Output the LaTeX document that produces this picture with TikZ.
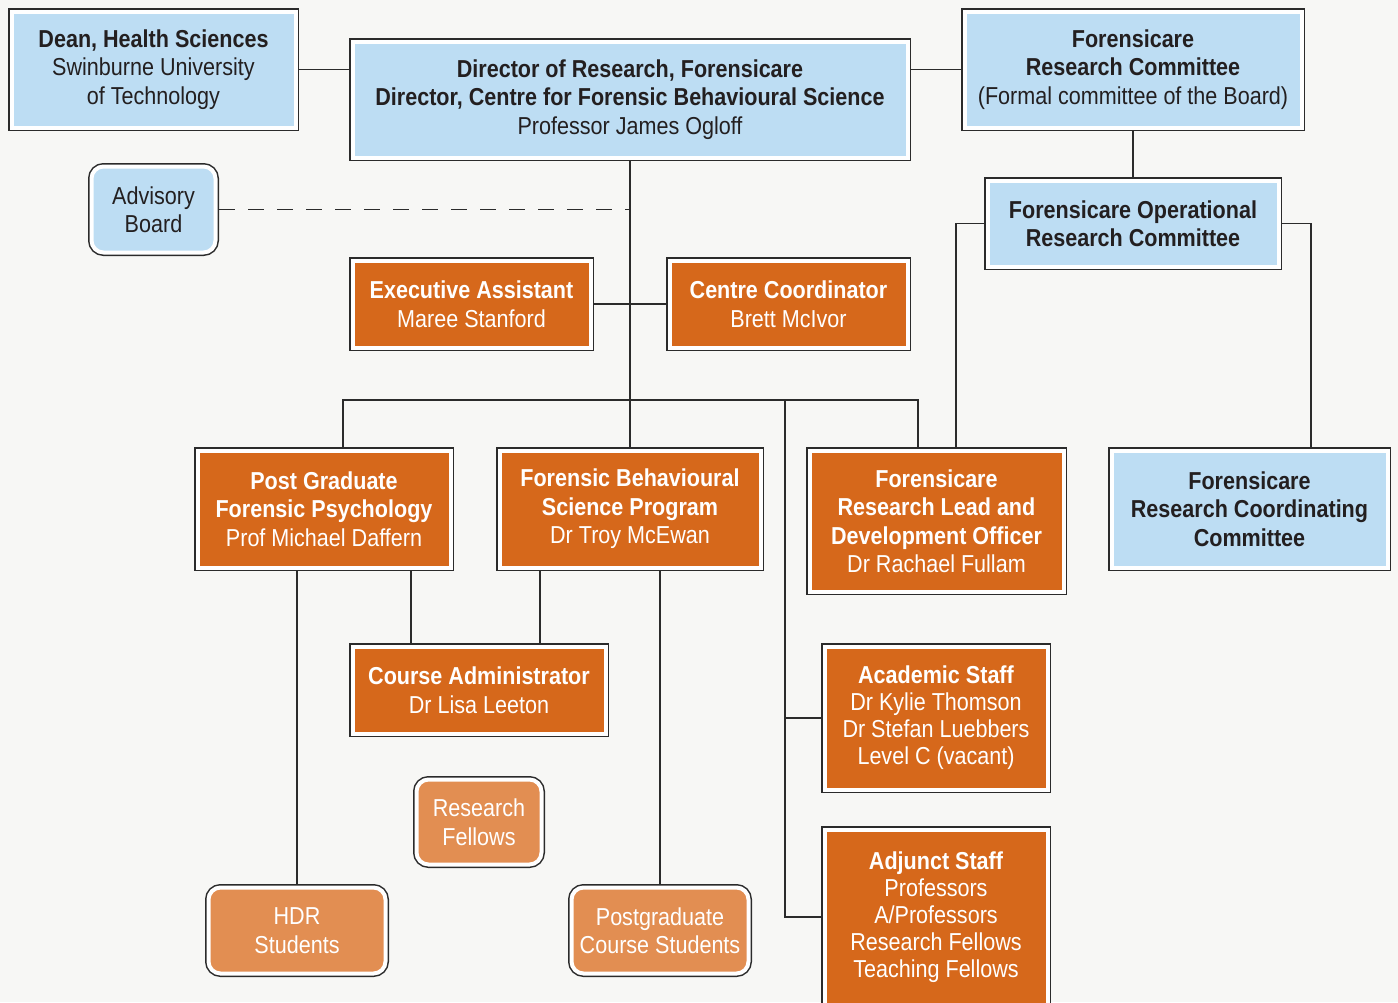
\documentclass[tikz,border=0pt]{standalone}
\usepackage{fontspec}
\setmainfont{Liberation Sans}[FakeStretch=0.88]
\definecolor{bgc}{HTML}{F7F7F5}
\definecolor{linec}{HTML}{2B2B2B}
\definecolor{bluef}{HTML}{BDDDF3}
\definecolor{oranf}{HTML}{D6681B}
\definecolor{lorf}{HTML}{E28E52}
\definecolor{textd}{HTML}{231F20}
\tikzset{
  base/.style={draw=white, line width=4pt, preaction={draw=linec, line width=7pt},
    outer sep=3.5pt, inner sep=0pt, align=center, font=\fontsize{24.5}{28.5}\selectfont},
  bluebox/.style={base, fill=bluef, text=textd},
  orbox/.style={base, fill=oranf, text=white},
  ltbox/.style={base, fill=lorf, text=white, rounded corners=12pt},
  bluernd/.style={base, fill=bluef, text=textd, rounded corners=12pt},
  conn/.style={draw=linec, line width=1.5pt},
  sz/.style 2 args={minimum width=#1pt-7pt, minimum height=#2pt-7pt},
}
\newcommand\hd[1]{{\bfseries #1}}
\begin{document}
\begin{tikzpicture}[x=1pt, y=-1pt]
\clip (0,0) rectangle (1398,1002);
\fill[bgc] (0,0) rectangle (1398,1002);

\coordinate (c343) at (343,400);
\coordinate (c918) at (918,400);
\coordinate (c785) at (785,400);
\coordinate (c956) at (956,0);
\coordinate (c1311) at (1311,0);
\coordinate (c411) at (411,0);
\coordinate (c540) at (540,0);

% nodes
\node[bluebox, sz={291}{123}] (dean) at (153.5,69.5) {\hd{Dean, Health Sciences}\\Swinburne University\\of Technology};
\node[bluebox, sz={562}{123}] (dir) at (630,99.5) {\hd{Director of Research, Forensicare}\\\hd{Director, Centre for Forensic Behavioural Science}\\Professor James Ogloff};
\node[bluebox, sz={344}{123}] (frc) at (1133,69.5) {\hd{Forensicare}\\\hd{Research Committee}\\(Formal committee of the Board)};
\node[bluernd, sz={131}{93}] (adv) at (153.5,209.5) {Advisory\\Board};
\node[bluebox, sz={298}{93}] (forc) at (1133,223.5) {\hd{Forensicare Operational}\\\hd{Research Committee}};
\node[orbox, sz={245}{94}] (ea) at (471.5,304) {\hd{Executive Assistant}\\Maree Stanford};
\node[orbox, sz={245}{94}] (cc) at (788.5,304) {\hd{Centre Coordinator}\\Brett McIvor};
\node[orbox, sz={260}{124}] (pg) at (324,509) {\hd{Post Graduate}\\\hd{Forensic Psychology}\\Prof Michael Daffern};
\node[orbox, sz={268}{124}] (fbsp) at (630,509) {\hd{Forensic Behavioural}\\\hd{Science Program}\\Dr Troy McEwan};
\node[orbox, sz={261}{148}] (frl) at (936.5,521) {\hd{Forensicare}\\\hd{Research Lead and}\\\hd{Development Officer}\\Dr Rachael Fullam};
\node[bluebox, sz={283}{124}] (frcc) at (1249.5,509) {\hd{Forensicare}\\\hd{Research Coordinating}\\\hd{Committee}};
\node[orbox, sz={260}{94}] (ca) at (479,690) {\hd{Course Administrator}\\Dr Lisa Leeton};
\node[orbox, sz={230}{150}, font=\fontsize{24.5}{27}\selectfont] (acad) at (936,718) {\hd{Academic Staff}\\Dr Kylie Thomson\\Dr Stefan Luebbers\\Level C (vacant)};
\node[ltbox, sz={132}{92}] (rf) at (479,822) {Research\\Fellows};
\node[ltbox, sz={184}{93}] (hdr) at (297,930.5) {HDR\\Students};
\node[ltbox, sz={184}{93}] (pcs) at (660,930.5) {Postgraduate\\Course Students};
\node[orbox, sz={230}{182}, font=\fontsize{24.5}{27}\selectfont] (adj) at (936,917) {\hd{Adjunct Staff}\\Professors\\A/Professors\\Research Fellows\\Teaching Fellows};

% connectors
\draw[conn] (dean.east) -- (dean.east -| dir.west);
\draw[conn] (dir.east |- frc.west) -- (frc.west);
\draw[conn] (frc.south) -- (forc.north);
\draw[conn] (dir.south) -- (fbsp.north);
\draw[conn, dash pattern=on 16pt off 13pt] (adv.east) -- (adv.east -| dir.south);
\draw[conn] (ea.east) -- (cc.west);
\draw[conn] (pg.north -| c343) -- (c343) -- (c918) -- (frl.north -| c918);
\draw[conn] (c785) |- (adj.west);
\draw[conn] (c785 |- acad.west) -- (acad.west);
\draw[conn] (forc.west) -| (frl.north -| c956);
\draw[conn] (forc.east) -| (frcc.north -| c1311);
\draw[conn] (hdr.north |- pg.south) -- (hdr.north);
\draw[conn] (pg.south -| c411) -- (ca.north -| c411);
\draw[conn] (fbsp.south -| c540) -- (ca.north -| c540);
\draw[conn] (pcs.north |- fbsp.south) -- (pcs.north);
\end{tikzpicture}
\end{document}
